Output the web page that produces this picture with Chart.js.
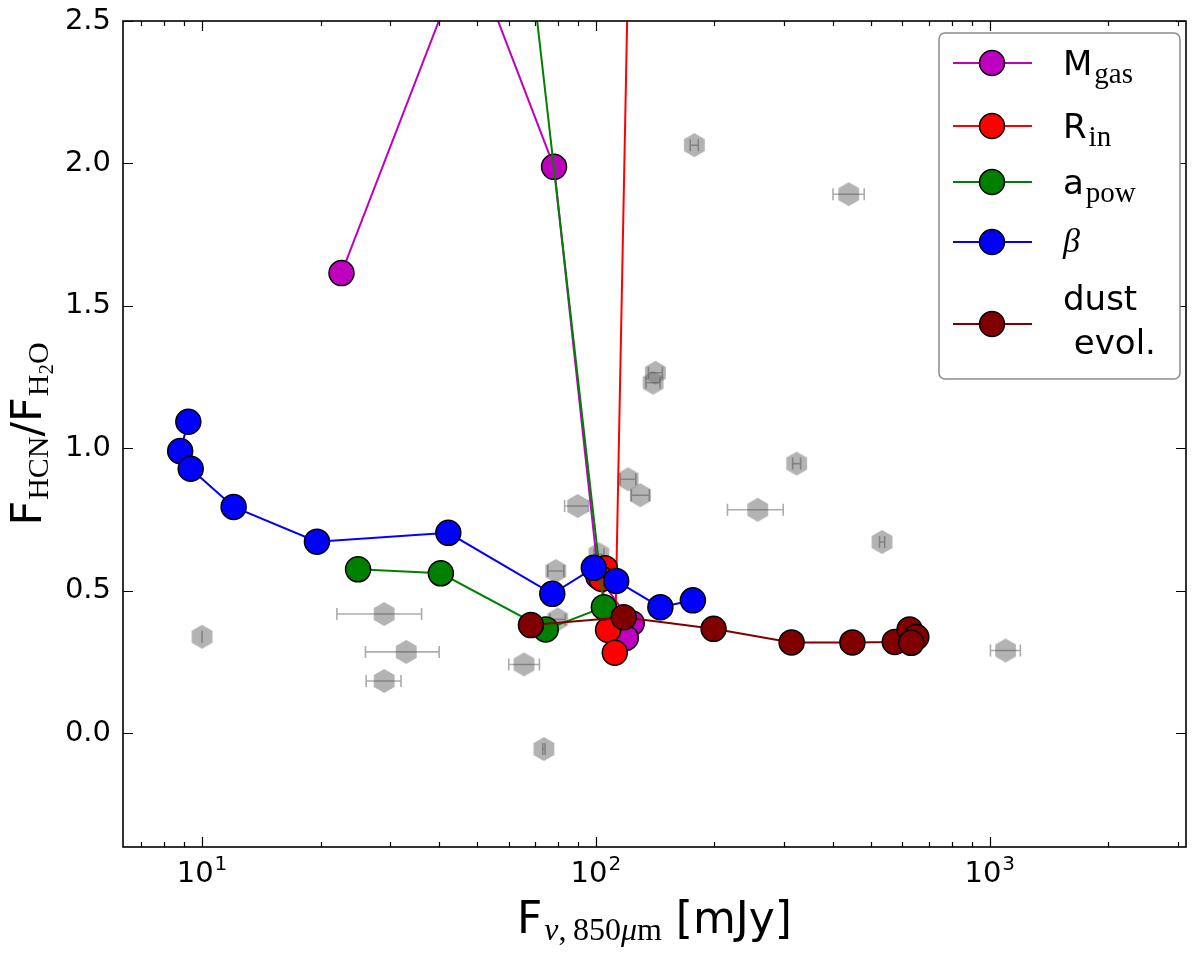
<!DOCTYPE html>
<html><head><meta charset="utf-8">
<script src="https://cdn.jsdelivr.net/npm/chart.js@4.4.0/dist/chart.umd.min.js"></script>
<style>html,body{margin:0;padding:0;background:#fff}#wrap{width:1200px;height:956px;position:relative}</style>
</head><body><div id="wrap"><canvas id="c"></canvas></div>
<script>
// ---- tick values ----
const xTickMajor = [10, 100, 1000];
const xTickMinor = [7, 8, 9, 20, 30, 40, 50, 60, 70, 80, 90, 200, 300, 400, 500, 600, 700, 800, 900, 2000, 3000];
const yTickValues = [0.0, 0.5, 1.0, 1.5, 2.0, 2.5];

// ---- model series ----
const mgasX = [22.6, 47.5, 78.3, 101.5, 123.3, 119.1];
const mgasY = [1.615, 2.77, 1.988, 0.55, 0.386, 0.334];
const rinX = [105.4, 103.5, 107.4, 111.7, 130.2];
const rinY = [0.579, 0.541, 0.362, 0.282, 5.0];
const apowX = [24.9, 40.4, 74.6, 104.8, 53.4];
const apowY = [0.575, 0.561, 0.364, 0.442, 4.0];
const betaX = [9.23, 8.80, 9.36, 12.03, 19.58, 42.2, 77.5, 98.8, 112.6, 145.8, 176.3];
const betaY = [1.093, 0.990, 0.928, 0.794, 0.672, 0.703, 0.489, 0.580, 0.534, 0.442, 0.466];
const dustX = [68.4, 117.7, 199, 314, 448, 574, 626, 651, 632];
const dustY = [0.379, 0.407, 0.366, 0.318, 0.318, 0.320, 0.364, 0.337, 0.317];

// ---- observations (grey hexagons) ----
const obsX    = [10.0, 29.0, 33.0, 29.0, 65.7, 73.8, 79.1, 80.0, 89.9, 101.8, 120.7, 129.7, 139.7, 141.6, 177.8, 257.6, 323.4, 438.5, 532.8, 1097];
const obsY    = [0.338, 0.418, 0.285, 0.183, 0.241, -0.056, 0.569, 0.399, 0.797, 0.628, 0.891, 0.835, 1.230, 1.265, 2.064, 0.784, 0.946, 1.892, 0.671, 0.290];
const obsXLow = [10.0, 22.0, 26.0, 26.1, 60.1, 73.3, 75.5, 76.5, 83.3, 98.9, 115.3, 123.0, 134.0, 136.0, 173.6, 215.8, 316.0, 400.0, 525.0, 1004];
const obsXHigh= [10.0, 36.1, 40.0, 32.0, 71.9, 74.3, 82.9, 83.6, 95.8, 104.8, 126.3, 136.7, 145.5, 147.5, 182.0, 299.0, 331.0, 480.0, 541.0, 1196];

const seriesNames  = ['M', 'R', 'a', 'β', 'dust'];
const seriesColors = ['#bf00bf', '#ff0000', '#008000', '#0000ff', '#800000'];

function pts(xa, ya) { return xa.map((x, i) => ({x: x, y: ya[i]})); }

function makeHex(r, fill) {
  const c = document.createElement('canvas');
  const w = Math.ceil(r * Math.sqrt(3)) + 2, h = Math.ceil(2 * r) + 2;
  c.width = w; c.height = h;
  const g = c.getContext('2d');
  g.fillStyle = fill;
  g.beginPath();
  for (let k = 0; k < 6; k++) {
    const a = Math.PI / 2 + k * Math.PI / 3;
    const px = w / 2 + r * Math.cos(a), py = h / 2 + r * Math.sin(a);
    if (k) g.lineTo(px, py); else g.moveTo(px, py);
  }
  g.closePath(); g.fill();
  return c;
}
const hexImg = makeHex(12, 'rgba(128,128,128,0.6)');

function lineDS(label, xa, ya, color, order) {
  return {
    label: label, data: pts(xa, ya), showLine: true, borderColor: color, borderWidth: 2,
    pointRadius: 12.5, pointBackgroundColor: color, pointBorderColor: '#000', pointBorderWidth: 1.5,
    tension: 0, order: order
  };
}

const SANS = 'DejaVu Sans';
const SERIF = 'Liberation Serif';

function drawRich(ctx, parts, x, y, align) {
  let total = 0;
  parts.forEach(p => { ctx.font = p.font; p.w = ctx.measureText(p.t).width; total += p.w + (p.gap || 0); });
  let cx = align === 'center' ? x - total / 2 : x;
  ctx.textBaseline = 'alphabetic'; ctx.textAlign = 'left';
  parts.forEach(p => { ctx.font = p.font; ctx.fillText(p.t, cx, y + (p.dy || 0)); cx += p.w + (p.gap || 0); });
}

const decor = {
  id: 'decor',
  afterDatasetDraw(chart, args) {
    if (args.index !== 0) return;
    const ctx = chart.ctx, xs = chart.scales.x, ys = chart.scales.y;
    ctx.save();
    ctx.strokeStyle = 'rgba(70,70,70,0.45)';
    ctx.lineWidth = 1.6;
    for (let i = 0; i < obsX.length; i++) {
      const y = ys.getPixelForValue(obsY[i]);
      const x1 = xs.getPixelForValue(obsXLow[i]), x2 = xs.getPixelForValue(obsXHigh[i]);
      ctx.beginPath();
      ctx.moveTo(x1, y); ctx.lineTo(x2, y);
      ctx.moveTo(x1, y - 6); ctx.lineTo(x1, y + 6);
      ctx.moveTo(x2, y - 6); ctx.lineTo(x2, y + 6);
      ctx.stroke();
    }
    ctx.restore();
  },
  afterDraw(chart) {
    const ctx = chart.ctx, xs = chart.scales.x, ys = chart.scales.y, ca = chart.chartArea;
    ctx.save();
    ctx.fillStyle = '#000'; ctx.strokeStyle = '#000';
    // ticks
    ctx.lineWidth = 1.2;
    ctx.beginPath();
    xTickMajor.forEach(v => { const p = Math.round(xs.getPixelForValue(v)) + 0.5;
      ctx.moveTo(p, ca.bottom); ctx.lineTo(p, ca.bottom - 10); ctx.moveTo(p, ca.top); ctx.lineTo(p, ca.top + 10); });
    xTickMinor.forEach(v => { const p = Math.round(xs.getPixelForValue(v)) + 0.5;
      ctx.moveTo(p, ca.bottom); ctx.lineTo(p, ca.bottom - 5); ctx.moveTo(p, ca.top); ctx.lineTo(p, ca.top + 5); });
    yTickValues.forEach(v => { const p = Math.round(ys.getPixelForValue(v)) + 0.5;
      ctx.moveTo(ca.left, p); ctx.lineTo(ca.left + 10, p); ctx.moveTo(ca.right, p); ctx.lineTo(ca.right - 10, p); });
    ctx.stroke();
    // frame
    ctx.lineWidth = 1.6;
    ctx.strokeRect(ca.left, ca.top, ca.right - ca.left, ca.bottom - ca.top);
    // x tick labels 10^n
    xTickMajor.forEach(v => {
      const p = xs.getPixelForValue(v);
      const e = String(Math.round(Math.log10(v)));
      drawRich(ctx, [
        {t: '10', font: '29px "' + SANS + '"', gap: 1},
        {t: e, font: '20px "' + SANS + '"', dy: -12}
      ], p, 882, 'center');
    });
    // x axis title
    drawRich(ctx, [
      {t: 'F', font: '44px "' + SANS + '"', gap: 2},
      {t: 'ν', font: 'italic 32px "' + SERIF + '"', dy: 7},
      {t: ',\u2009850', font: '32px "' + SERIF + '"', dy: 7},
      {t: 'μ', font: 'italic 32px "' + SERIF + '"', dy: 7},
      {t: 'm', font: '32px "' + SERIF + '"', dy: 7},
      {t: ' [mJy]', font: '44px "' + SANS + '"'}
    ], (ca.left + ca.right) / 2, 933, 'center');
    // y axis title
    ctx.save();
    ctx.translate(41, (ca.top + ca.bottom) / 2);
    ctx.rotate(-Math.PI / 2);
    drawRich(ctx, [
      {t: 'F', font: '43px "' + SANS + '"', gap: 1},
      {t: 'HCN', font: '30px "' + SERIF + '"', dy: 7},
      {t: '/', font: '43px "' + SANS + '"'},
      {t: 'F', font: '43px "' + SANS + '"', gap: 1},
      {t: 'H', font: '30px "' + SERIF + '"', dy: 7},
      {t: '2', font: '21px "' + SERIF + '"', dy: 12},
      {t: 'O', font: '30px "' + SERIF + '"', dy: 7}
    ], 0, 0, 'center');
    ctx.restore();
    // legend
    const bx = 939, by = 33, bw = 241, bh = 346;
    ctx.beginPath();
    ctx.roundRect(bx, by, bw, bh, 6);
    ctx.fillStyle = '#fff'; ctx.fill();
    ctx.strokeStyle = '#8c8c8c'; ctx.lineWidth = 1.5; ctx.stroke();
    const rows = [63, 126, 182, 242, 324];
    const subs = ['gas', 'in', 'pow', '', ''];
    rows.forEach((ry, i) => {
      ctx.strokeStyle = seriesColors[i]; ctx.lineWidth = 2;
      ctx.beginPath(); ctx.moveTo(953, ry); ctx.lineTo(1032, ry); ctx.stroke();
      ctx.beginPath(); ctx.arc(992, ry, 12.5, 0, Math.PI * 2);
      ctx.fillStyle = seriesColors[i]; ctx.fill();
      ctx.strokeStyle = '#000'; ctx.lineWidth = 1.5; ctx.stroke();
      ctx.fillStyle = '#000';
      if (i < 3) {
        drawRich(ctx, [
          {t: seriesNames[i], font: '34px "' + SANS + '"', gap: 2},
          {t: subs[i], font: '29px "' + SERIF + '"', dy: 8}
        ], 1063, ry + 12, 'left');
      } else if (i === 3) {
        drawRich(ctx, [{t: 'β', font: 'italic 34px "' + SERIF + '"'}], 1063, ry + 10, 'left');
      } else {
        drawRich(ctx, [{t: 'dust', font: '34px "' + SANS + '"'}], 1063, 310, 'left');
        drawRich(ctx, [{t: ' evol.', font: '34px "' + SANS + '"'}], 1063, 354, 'left');
      }
    });
    ctx.restore();
  }
};

const chart = new Chart(document.getElementById('c'), {
  type: 'scatter',
  data: {
    datasets: [
      { label: 'obs', data: pts(obsX, obsY), showLine: false, pointStyle: hexImg, pointRadius: 12, order: 10 },
      lineDS('M_gas', mgasX, mgasY, seriesColors[0], 5),
      lineDS('R_in', rinX, rinY, seriesColors[1], 4),
      lineDS('a_pow', apowX, apowY, seriesColors[2], 3),
      lineDS('beta', betaX, betaY, seriesColors[3], 2),
      lineDS('dust evol.', dustX, dustY, seriesColors[4], 1)
    ]
  },
  options: {
    responsive: true, maintainAspectRatio: false, animation: false, events: [],
    layout: { padding: { top: 21, right: 12, left: 0, bottom: 0 } },
    plugins: { legend: { display: false }, tooltip: { enabled: false } },
    scales: {
      x: {
        type: 'logarithmic', min: 6.3, max: 3150,
        grid: { display: false, drawTicks: false }, border: { display: false },
        ticks: { display: false },
        afterFit(s) { s.height = 109; s.paddingLeft = 0; s.paddingRight = 0; }
      },
      y: {
        type: 'linear', min: -0.4, max: 2.5,
        grid: { display: false, drawTicks: false }, border: { display: false },
        afterBuildTicks(s) { s.ticks = yTickValues.map(v => ({ value: v })); },
        ticks: { color: '#000', padding: 12, font: { family: SANS, size: 29 }, callback: v => Number(v).toFixed(1) },
        afterFit(s) { s.width = 123; s.paddingTop = 0; s.paddingBottom = 0; }
      }
    }
  },
  plugins: [decor]
});
</script></body></html>
